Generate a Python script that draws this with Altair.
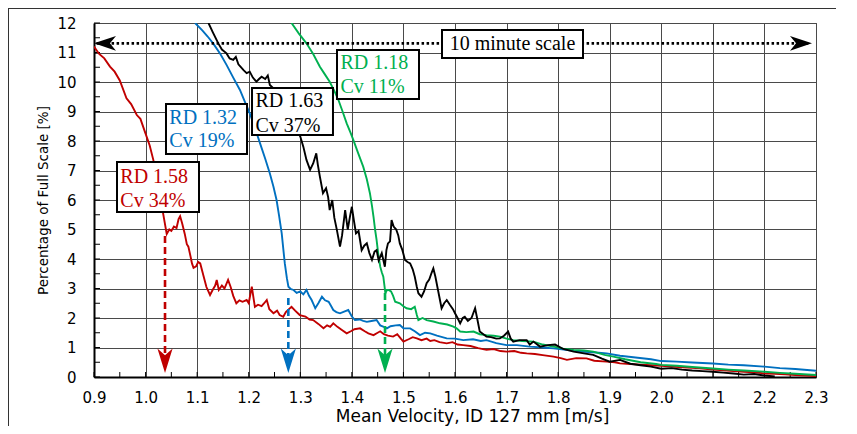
import altair as alt
import pandas as pd

# ---------------- data ----------------
red_x = [0.900, 0.910, 0.920, 0.931, 0.940, 0.950, 0.963, 0.972, 0.983, 0.990, 1.002, 1.008, 1.015, 1.022, 1.028,
         1.034, 1.041, 1.046, 1.050, 1.055, 1.060, 1.064, 1.067, 1.071, 1.076, 1.080, 1.083, 1.087, 1.090, 1.093,
         1.098, 1.102, 1.106, 1.112, 1.118, 1.125, 1.130, 1.135, 1.138, 1.142, 1.148, 1.153, 1.160, 1.165, 1.170,
         1.176, 1.182, 1.188, 1.196, 1.200, 1.206, 1.210, 1.212, 1.218, 1.225, 1.230, 1.235, 1.240, 1.248, 1.255,
         1.260, 1.267, 1.272, 1.278, 1.283, 1.290, 1.299, 1.310, 1.318, 1.325, 1.335, 1.345, 1.352, 1.358, 1.364,
         1.372, 1.380, 1.390, 1.398, 1.405, 1.416, 1.425, 1.432, 1.442, 1.450, 1.455, 1.462, 1.470, 1.480, 1.488,
         1.495, 1.500, 1.510, 1.518, 1.526, 1.535, 1.545, 1.552, 1.560, 1.570, 1.584, 1.595, 1.605, 1.616, 1.630,
         1.645, 1.661, 1.675, 1.688, 1.700, 1.715, 1.728, 1.739, 1.755, 1.770, 1.791, 1.805, 1.817, 1.835, 1.855,
         1.870, 1.894, 1.910, 1.920, 1.940, 1.960, 1.980, 2.000, 2.020, 2.040, 2.060, 2.080, 2.100, 2.120, 2.140,
         2.160, 2.180, 2.200, 2.220, 2.240, 2.260, 2.280, 2.300]
red_y = [11.20, 10.95, 10.80, 10.52, 10.35, 10.05, 9.45, 9.25, 8.88, 8.75, 8.15, 7.85, 7.36, 6.80, 6.23,
         5.55, 4.85, 5.00, 4.95, 5.10, 5.05, 5.35, 5.45, 5.20, 4.85, 4.50, 4.42, 4.10, 3.85, 3.70,
         3.75, 3.90, 3.85, 3.45, 3.05, 2.78, 2.95, 3.10, 3.29, 2.95, 3.10, 3.00, 3.29, 3.05, 2.75,
         2.50, 2.60, 2.55, 2.61, 2.50, 3.06, 2.60, 2.38, 2.45, 2.40, 2.50, 2.61, 2.30, 2.16, 2.25,
         2.10, 2.04, 2.20, 2.30, 2.38, 2.25, 2.10, 2.05, 1.95, 1.93, 1.80, 1.65, 1.75, 1.70, 1.82,
         1.70, 1.60, 1.48, 1.55, 1.62, 1.65, 1.55, 1.48, 1.42, 1.50, 1.55, 1.45, 1.40, 1.37, 1.45,
         1.30, 1.20, 1.28, 1.35, 1.31, 1.25, 1.30, 1.22, 1.25, 1.18, 1.14, 1.18, 1.10, 1.08, 1.05,
         0.98, 0.92, 0.95, 0.88, 0.86, 0.88, 0.82, 0.80, 0.78, 0.74, 0.69, 0.64, 0.58, 0.64, 0.63,
         0.55, 0.52, 0.50, 0.46, 0.44, 0.42, 0.40, 0.38, 0.35, 0.33, 0.31, 0.29, 0.25, 0.23, 0.20,
         0.18, 0.16, 0.12, 0.11, 0.09, 0.07, 0.05, 0.03]

blue_x = [1.096, 1.110, 1.120, 1.131, 1.145, 1.157, 1.170, 1.183, 1.192, 1.202, 1.212, 1.222, 1.232, 1.241, 1.248,
          1.254, 1.259, 1.264, 1.267, 1.270, 1.274, 1.277, 1.282, 1.287, 1.293, 1.300, 1.306, 1.312, 1.317, 1.322,
          1.326, 1.329, 1.335, 1.342, 1.348, 1.355, 1.360, 1.364, 1.370, 1.377, 1.385, 1.393, 1.400, 1.406, 1.415,
          1.422, 1.429, 1.438, 1.448, 1.455, 1.462, 1.468, 1.475, 1.485, 1.493, 1.500, 1.513, 1.522, 1.532, 1.542,
          1.552, 1.565, 1.584, 1.600, 1.616, 1.635, 1.650, 1.661, 1.680, 1.700, 1.720, 1.745, 1.770, 1.791, 1.815,
          1.842, 1.868, 1.894, 1.920, 1.950, 1.980, 2.000, 2.030, 2.060, 2.100, 2.130, 2.160, 2.200, 2.230, 2.260,
          2.300]
blue_y = [12.00, 11.75, 11.55, 11.31, 10.95, 10.58, 10.15, 9.73, 9.35, 8.94, 8.45, 7.92, 7.40, 6.90, 6.45,
          6.00, 5.45, 4.87, 4.35, 3.85, 3.35, 3.06, 2.98, 2.95, 2.85, 2.90, 2.80, 2.95, 2.75, 2.61,
          2.45, 2.33, 2.50, 2.72, 2.60, 2.55, 2.40, 2.27, 2.20, 2.16, 2.22, 2.27, 2.05, 1.93, 1.95,
          1.90, 1.87, 1.90, 1.93, 1.75, 1.70, 1.65, 1.72, 1.75, 1.76, 1.65, 1.65, 1.55, 1.42, 1.50,
          1.48, 1.40, 1.31, 1.30, 1.25, 1.28, 1.22, 1.25, 1.15, 1.08, 1.08, 1.03, 1.00, 0.97, 0.92,
          0.86, 0.84, 0.80, 0.72, 0.66, 0.60, 0.54, 0.52, 0.49, 0.46, 0.42, 0.40, 0.35, 0.30, 0.27,
          0.21]

black_x = [1.122, 1.130, 1.141, 1.148, 1.157, 1.163, 1.170, 1.175, 1.180, 1.190, 1.196, 1.202, 1.208, 1.215, 1.220,
           1.225, 1.232, 1.237, 1.241, 1.250, 1.260, 1.270, 1.280, 1.290, 1.300, 1.306, 1.312, 1.319, 1.325, 1.331,
           1.334, 1.338, 1.344, 1.350, 1.354, 1.357, 1.362, 1.366, 1.371, 1.377, 1.381, 1.387, 1.392, 1.396, 1.400,
           1.404, 1.408, 1.413, 1.419, 1.424, 1.429, 1.434, 1.439, 1.444, 1.448, 1.452, 1.458, 1.464, 1.467, 1.470,
           1.474, 1.477, 1.481, 1.486, 1.490, 1.493, 1.498, 1.503, 1.508, 1.513, 1.518, 1.522, 1.526, 1.529, 1.535,
           1.540, 1.545, 1.550, 1.555, 1.558, 1.562, 1.567, 1.574, 1.579, 1.584, 1.590, 1.596, 1.600, 1.605, 1.610,
           1.615, 1.619, 1.625, 1.632, 1.639, 1.644, 1.648, 1.655, 1.661, 1.670, 1.680, 1.687, 1.695, 1.703, 1.708,
           1.713, 1.725, 1.739, 1.745, 1.752, 1.765, 1.780, 1.794, 1.810, 1.830, 1.850, 1.868, 1.885, 1.900, 1.920,
           1.940, 1.960, 1.980, 2.000, 2.020, 2.040, 2.060, 2.080, 2.100, 2.120, 2.140, 2.160, 2.180, 2.200, 2.220]
black_y = [12.00, 11.70, 11.31, 11.10, 10.97, 10.80, 10.75, 10.85, 10.60, 10.40, 10.30, 10.35, 10.15, 10.01, 10.10,
           10.18, 10.10, 10.22, 9.90, 9.75, 9.50, 9.20, 8.90, 8.50, 8.15, 7.80, 7.36, 7.02, 7.24, 7.58,
           7.20, 6.79, 6.23, 6.40, 6.10, 5.66, 6.00, 5.40, 4.98, 4.42, 4.80, 5.66, 5.00, 5.40, 5.77,
           5.30, 4.87, 4.95, 4.30, 4.45, 4.53, 4.20, 3.97, 4.25, 4.30, 3.95, 4.20, 3.74, 4.30, 4.53,
           4.60, 5.32, 5.10, 5.00, 4.80, 4.53, 4.30, 3.97, 3.90, 3.85, 3.65, 3.40, 3.05, 2.84, 2.72,
           2.90, 3.18, 3.30, 3.55, 3.68, 3.40, 2.95, 2.33, 2.50, 2.61, 2.45, 2.30, 2.16, 2.00, 1.82,
           2.00, 2.04, 1.90, 2.00, 2.33, 1.90, 1.54, 1.45, 1.37, 1.35, 1.30, 1.31, 1.40, 1.54, 1.30,
           1.20, 1.25, 1.25, 1.10, 1.20, 1.03, 1.08, 1.10, 0.95, 0.86, 0.80, 0.75, 0.62, 0.52, 0.58,
           0.45, 0.40, 0.35, 0.28, 0.30, 0.25, 0.22, 0.20, 0.18, 0.15, 0.12, 0.08, 0.10, 0.05, 0.02]

green_x = [1.283, 1.297, 1.312, 1.325, 1.338, 1.348, 1.357, 1.366, 1.374, 1.382, 1.390, 1.397, 1.403, 1.412, 1.422,
           1.429, 1.435, 1.439, 1.442, 1.445, 1.448, 1.451, 1.455, 1.458, 1.461, 1.465, 1.468, 1.471, 1.476, 1.480,
           1.484, 1.493, 1.500, 1.506, 1.515, 1.522, 1.526, 1.529, 1.537, 1.545, 1.558, 1.571, 1.585, 1.597, 1.603,
           1.610, 1.622, 1.636, 1.648, 1.661, 1.675, 1.687, 1.700, 1.713, 1.730, 1.752, 1.770, 1.791, 1.810, 1.830,
           1.850, 1.868, 1.890, 1.907, 1.930, 1.960, 1.990, 2.000, 2.030, 2.060, 2.100, 2.130, 2.160, 2.200, 2.230,
           2.260, 2.300]
green_y = [12.00, 11.65, 11.31, 10.95, 10.52, 10.25, 10.01, 9.70, 9.39, 9.00, 8.60, 8.30, 8.03, 7.60, 7.13,
           6.70, 6.23, 5.80, 5.43, 5.00, 4.64, 4.20, 3.74, 3.55, 3.40, 2.84, 2.95, 2.95, 2.90, 2.75,
           2.55, 2.50, 2.40, 2.33, 2.30, 2.38, 2.10, 1.93, 2.00, 1.93, 1.88, 1.82, 1.78, 1.71, 1.65,
           1.54, 1.52, 1.54, 1.45, 1.42, 1.40, 1.37, 1.30, 1.25, 1.22, 1.20, 1.10, 1.03, 0.96, 0.92,
           0.90, 0.86, 0.75, 0.69, 0.60, 0.50, 0.44, 0.41, 0.38, 0.34, 0.29, 0.25, 0.22, 0.18, 0.14,
           0.11, 0.07]

series_names = ["RD 1.58", "RD 1.32", "RD 1.18", "RD 1.63"]
series_colors = ["#C00000", "#0070C0", "#00B050", "#000000"]
series_x = [red_x, blue_x, green_x, black_x]
series_y = [red_y, blue_y, green_y, black_y]

# annotation boxes (data units)
box_x1 = [0.9446, 1.0396, 1.2064, 1.3712, 1.5748]
box_x2 = [1.1036, 1.1967, 1.3634, 1.5302, 1.8482]
box_y1 = [7.288, 9.254, 9.797, 11.085, 11.763]
box_y2 = [5.593, 7.559, 8.203, 9.424, 10.814]

label_lines = ["RD 1.58", "Cv 34%", "RD 1.32", "Cv 19%", "RD 1.63", "Cv 37%", "RD 1.18", "Cv 11%"]
label_x = [0.951, 0.951, 1.046, 1.046, 1.213, 1.213, 1.378, 1.378]
label_y = [6.58, 5.76, 8.58, 7.80, 9.15, 8.31, 10.44, 9.63]
label_color = ["#C00000", "#C00000", "#0070C0", "#0070C0", "#000000", "#000000", "#00B050", "#00B050"]

scale_text = "10 minute scale"
scale_text_x = 1.7115
scale_text_y = 11.085
scale_line_y = 11.31
scale_line_x1 = 0.905
scale_line_x2 = 2.285

# dashed arrows: x position, top, bottom
arrow_x = [1.0377, 1.2768, 1.4643]
arrow_top = [4.78, 2.68, 2.85]
arrow_bottom = [0.62, 0.62, 0.62]
arrow_head_y = [0.55, 0.55, 0.55]
arrow_color = ["#C00000", "#0070C0", "#00B050"]

x_ticks = [0.9, 1.0, 1.1, 1.2, 1.3, 1.4, 1.5, 1.6, 1.7, 1.8, 1.9, 2.0, 2.1, 2.2, 2.3]
y_ticks = [0, 1, 2, 3, 4, 5, 6, 7, 8, 9, 10, 11, 12]
x_minor = [0.9, 0.95, 1.0, 1.05, 1.1, 1.15, 1.2, 1.25, 1.3, 1.35, 1.4, 1.45, 1.5, 1.55, 1.6, 1.65, 1.7,
           1.75, 1.8, 1.85, 1.9, 1.95, 2.0, 2.05, 2.1, 2.15, 2.2, 2.25, 2.3]
y_minor = [0, 0.5, 1, 1.5, 2, 2.5, 3, 3.5, 4, 4.5, 5, 5.5, 6, 6.5, 7, 7.5, 8, 8.5, 9, 9.5, 10, 10.5, 11, 11.5, 12]

# ---------------- chart ----------------
W, H = 722, 354
PAD_L, PAD_T, PAD_R, PAD_B = 86, 15, 20, 49

xscale = alt.Scale(domain=[0.9, 2.3], nice=False, zero=False)
yscale = alt.Scale(domain=[0, 12], nice=False, zero=False)

x_axis = alt.Axis(values=x_ticks, format=".1f", title="Mean Velocity, ID 127 mm [m/s]",
                  grid=True, gridColor="#4a4a4a", gridWidth=1, domainColor="black", domainWidth=2,
                  ticks=False, labelFont="DejaVu Sans", labelFontSize=15, labelColor="black",
                  labelPadding=13, labelFlush=False, labelOverlap=False,
                  titleFont="DejaVu Sans", titleFontSize=17, titleFontWeight="normal", titleColor="black",
                  titleX=378, titleY=44, titleAlign="center", titleBaseline="alphabetic")
y_axis = alt.Axis(values=y_ticks, format="d", title="Percentage of Full Scale [%]",
                  grid=True, gridColor="#4a4a4a", gridWidth=1, domainColor="black", domainWidth=2,
                  ticks=False, labelFont="DejaVu Sans", labelFontSize=15, labelColor="black",
                  labelPadding=18, labelFlush=False, labelOverlap=False,
                  titleFont="DejaVu Sans", titleFontSize=13.5, titleFontWeight="normal", titleColor="black",
                  titleX=-47, titleY=177, titleAngle=270, titleAlign="center", titleBaseline="alphabetic")


def X(field):
    return alt.X(field, scale=xscale, axis=x_axis)


def Y(field):
    return alt.Y(field, scale=yscale, axis=y_axis)


layers = []

# minor / major ticks drawn inward
xt = alt.Chart(pd.DataFrame({"t": x_minor})).mark_rule(color="black", strokeWidth=1).encode(
    x=X("t:Q"), y=alt.value(H), y2=alt.value(H - 5))
yt = alt.Chart(pd.DataFrame({"t": y_minor})).mark_rule(color="black", strokeWidth=1).encode(
    y=Y("t:Q"), x=alt.value(0), x2=alt.value(6))
layers += [xt, yt]

# curves
for name, xs, ys, col in zip(series_names, series_x, series_y, series_colors):
    d = pd.DataFrame({"x": xs, "y": ys, "i": list(range(len(xs)))})
    layers.append(alt.Chart(d).mark_line(color=col, strokeWidth=1.9, clip=True).encode(
        x=X("x:Q"), y=Y("y:Q"), order="i:Q"))

# dashed arrows
adf = pd.DataFrame({"x": arrow_x, "y1": arrow_top, "y2": arrow_bottom, "yh": arrow_head_y, "c": arrow_color})
layers.append(alt.Chart(adf).mark_rule(strokeDash=[7, 4], strokeWidth=2.6).encode(
    x=X("x:Q"), y=Y("y1:Q"), y2="y2:Q", color=alt.Color("c:N", scale=None)))
layers.append(alt.Chart(adf).mark_point(filled=True, opacity=1, strokeWidth=0, size=600,
                                        shape="M0,1 L-0.62,-1 L0,-0.45 L0.62,-1 Z").encode(
    x=X("x:Q"), y=Y("yh:Q"), color=alt.Color("c:N", scale=None)))

# dotted 10-minute scale line with arrowheads
sdf = pd.DataFrame({"x1": [scale_line_x1], "x2": [scale_line_x2], "y": [scale_line_y]})
layers.append(alt.Chart(sdf).mark_rule(color="black", strokeDash=[2.5, 2.5], strokeWidth=2.6).encode(
    x=X("x1:Q"), x2="x2:Q", y=Y("y:Q")))
hl = pd.DataFrame({"x": [0.9213], "y": [scale_line_y]})
hr = pd.DataFrame({"x": [2.2709], "y": [scale_line_y]})
layers.append(alt.Chart(hl).mark_point(filled=True, opacity=1, strokeWidth=0, color="black", size=484,
                                       shape="M-1,0 L1,-0.68 L0.45,0 L1,0.68 Z").encode(x=X("x:Q"), y=Y("y:Q")))
layers.append(alt.Chart(hr).mark_point(filled=True, opacity=1, strokeWidth=0, color="black", size=484,
                                       shape="M1,0 L-1,-0.68 L-0.45,0 L-1,0.68 Z").encode(x=X("x:Q"), y=Y("y:Q")))

# annotation boxes
bdf = pd.DataFrame({"x1": box_x1, "x2": box_x2, "y1": box_y1, "y2": box_y2})
layers.append(alt.Chart(bdf).mark_rect(fill="white", stroke="black", strokeWidth=2).encode(
    x=X("x1:Q"), x2="x2:Q", y=Y("y1:Q"), y2="y2:Q"))

tdf = pd.DataFrame({"x": label_x, "y": label_y, "t": label_lines, "c": label_color})
layers.append(alt.Chart(tdf).mark_text(font="Liberation Serif", fontSize=20, align="left",
                                       baseline="alphabetic").encode(
    x=X("x:Q"), y=Y("y:Q"), text="t:N", color=alt.Color("c:N", scale=None)))
st = pd.DataFrame({"x": [scale_text_x], "y": [scale_text_y], "t": [scale_text]})
layers.append(alt.Chart(st).mark_text(font="Liberation Serif", fontSize=20, align="center",
                                      baseline="alphabetic", color="black").encode(
    x=X("x:Q"), y=Y("y:Q"), text="t:N"))

# outer figure frame (top and left edges visible in the reference)
one = pd.DataFrame({"a": [0]})
layers.append(alt.Chart(one).mark_rule(color="#333333", strokeWidth=1).encode(
    x=alt.value(-PAD_L + 0.5), y=alt.value(-PAD_T), y2=alt.value(H + PAD_B)))
layers.append(alt.Chart(one).mark_rule(color="#333333", strokeWidth=1).encode(
    x=alt.value(-PAD_L), x2=alt.value(W + PAD_R), y=alt.value(-PAD_T + 0.5)))

chart = alt.layer(*layers).properties(
    width=W, height=H,
    autosize=alt.AutoSizeParams(type="none"),
    padding={"left": PAD_L, "top": PAD_T, "right": PAD_R, "bottom": PAD_B},
    background="white",
).configure_view(stroke="#333333", strokeWidth=1)

chart.save("out.html", embed_options={"renderer": "svg", "actions": False})
